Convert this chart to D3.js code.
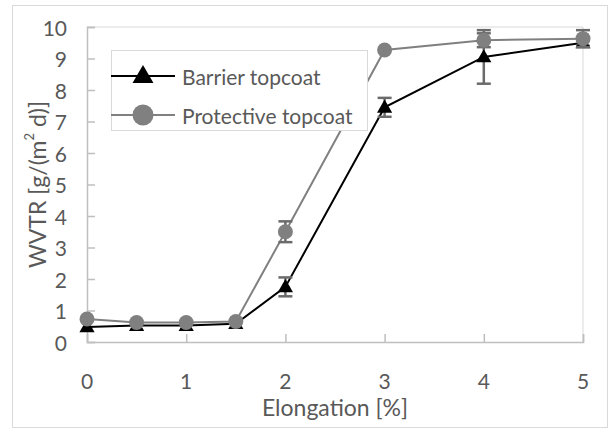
<!DOCTYPE html>
<html>
<head>
<meta charset="utf-8">
<script src="https://cdn.jsdelivr.net/npm/d3@7"></script>
<style>
  body { margin: 0; background: #fff; }
  text { font-family: Lato, "Open Sans", sans-serif; fill: #595959; }
</style>
</head>
<body>
<div id="chart"></div>
<script>
// elongation steps (%) and measured WVTR
const elongation = [0, 0.5, 1, 1.5, 2, 3, 4, 5];
const barrier = [0.48, 0.52, 0.52, 0.58, 1.75, 7.45, 9.05, 9.5];
const barrierErr = [0, 0, 0, 0, 0.3, 0.3, 0.85, 0.1];
const protective = [0.73, 0.62, 0.62, 0.65, 3.5, 9.27, 9.58, 9.63];
const protectiveErr = [0, 0, 0, 0, 0.33, 0, 0.22, 0.27];
const seriesNames = ["Barrier topcoat", "Protective topcoat"];
const xTicks = [0, 1, 2, 3, 4, 5];
const yTicks = d3.range(0, 11);

const width = 611,
      height = 430,
      margin = ({ top: 27, right: 28, bottom: 88, left: 87 });

let svg = d3.select("#chart")
    .append("svg")
    .attr("width", width)
    .attr("height", height);

// outer chart frame
svg.append("rect")
    .attr("x", 12.5).attr("y", 5.5)
    .attr("width", 595).attr("height", 422)
    .attr("fill", "none")
    .attr("stroke", "#d9d9d9");

let x = d3.scaleLinear()
    .domain([0, 5])
    .range([margin.left, width - margin.right]);

let y = d3.scaleLinear()
    .domain([0, 10])
    .range([height - margin.bottom, margin.top]);

// plot area border (top & right)
svg.append("path")
    .attr("d", `M${x(0)},${y(10)}H${x(5)}V${y(0)}`)
    .attr("fill", "none")
    .attr("stroke", "#d9d9d9");

// y axis, ticks pointing inward
let yAxis = svg.append("g")
    .attr("transform", `translate(${x(0)},0)`)
    .call(d3.axisRight(y).tickValues(yTicks).tickSize(8).tickFormat(""));
yAxis.select(".domain").attr("stroke", "#bfbfbf").attr("stroke-width", 1.5);
yAxis.selectAll(".tick line").attr("stroke", "#bfbfbf").attr("stroke-width", 1.5);

svg.append("g").selectAll("text")
    .data(yTicks)
    .join("text")
    .attr("x", 67)
    .attr("y", d => y(d))
    .attr("text-anchor", "end")
    .attr("dominant-baseline", "central")
    .style("font-size", "21px")
    .text(d => d);

// x axis, ticks pointing up
let xAxis = svg.append("g")
    .attr("transform", `translate(0,${y(0)})`)
    .call(d3.axisTop(x).tickValues(xTicks).tickSize(8).tickFormat(""));
xAxis.select(".domain").attr("stroke", "#bfbfbf").attr("stroke-width", 1.5);
xAxis.selectAll(".tick line").attr("stroke", "#bfbfbf").attr("stroke-width", 1.5);

svg.append("g").selectAll("text")
    .data(xTicks)
    .join("text")
    .attr("x", d => x(d))
    .attr("y", 380)
    .attr("text-anchor", "middle")
    .attr("dominant-baseline", "central")
    .style("font-size", "21px")
    .text(d => d);

// axis titles
svg.append("text")
    .attr("x", x(2.5))
    .attr("y", 407)
    .attr("text-anchor", "middle")
    .attr("dominant-baseline", "central")
    .style("font-size", "23px")
    .text("Elongation [%]");

svg.append("text")
    .attr("transform", `translate(37,${y(5)}) rotate(-90)`)
    .attr("text-anchor", "middle")
    .attr("dominant-baseline", "central")
    .style("font-size", "23px")
    .html("WVTR [g/(m<tspan dy='-8' style='font-size:13px'>2</tspan><tspan dy='8'> d)]</tspan>");

const series = [
    { name: seriesNames[0], values: barrier, err: barrierErr, color: "#000000", errColor: "#6b6b6b", shape: "tri" },
    { name: seriesNames[1], values: protective, err: protectiveErr, color: "#808080", errColor: "#6b6b6b", shape: "circ" }
];

function drawMarker(g, shape, color, big) {
    if (shape === "tri") {
        let tri = d3.symbol().type(d3.symbolTriangle).size(big ? 190 : 100);
        g.append("path").attr("d", tri()).attr("transform", "translate(0,1)").attr("fill", color);
    } else {
        g.append("circle").attr("r", big ? 10.5 : 7.5).attr("fill", color);
    }
}

let line = d3.line()
    .x((d, i) => x(elongation[i]))
    .y(d => y(d));

for (let s of series) {
    let g = svg.append("g");

    g.append("path")
        .datum(s.values)
        .attr("fill", "none")
        .attr("stroke", s.color)
        .attr("stroke-width", 2)
        .attr("d", line);

    let pts = s.values.map((v, i) => ({ x: elongation[i], v: v, e: s.err[i] }));

    // error bars
    let eb = g.selectAll(".err")
        .data(pts.filter(d => d.e > 0))
        .join("g")
        .attr("stroke", s.errColor)
        .attr("stroke-width", 2.5);
    eb.append("line")
        .attr("x1", d => x(d.x)).attr("x2", d => x(d.x))
        .attr("y1", d => y(d.v - d.e)).attr("y2", d => y(d.v + d.e));
    eb.append("line")
        .attr("x1", d => x(d.x) - 7).attr("x2", d => x(d.x) + 7)
        .attr("y1", d => y(d.v + d.e)).attr("y2", d => y(d.v + d.e));
    eb.append("line")
        .attr("x1", d => x(d.x) - 7).attr("x2", d => x(d.x) + 7)
        .attr("y1", d => y(d.v - d.e)).attr("y2", d => y(d.v - d.e));

    g.selectAll(".mark")
        .data(pts)
        .join("g")
        .attr("transform", d => `translate(${x(d.x)},${y(d.v)})`)
        .each(function () { drawMarker(d3.select(this), s.shape, s.color, false); });
}

// legend
let legend = svg.append("g").attr("transform", "translate(111,50)");
legend.append("rect")
    .attr("x", 0.5).attr("y", 0.5)
    .attr("width", 256).attr("height", 80)
    .attr("fill", "#fff")
    .attr("stroke", "#d9d9d9");

series.forEach((s, i) => {
    let row = legend.append("g").attr("transform", `translate(0,${26 + i * 39})`);
    row.append("line")
        .attr("x1", 0).attr("x2", 64)
        .attr("stroke", s.color).attr("stroke-width", 2);
    let m = row.append("g").attr("transform", "translate(32,0)");
    drawMarker(m, s.shape, s.color, true);
    row.append("text")
        .attr("x", 71)
        .attr("dominant-baseline", "central")
        .style("font-size", "21px")
        .text(s.name);
});
</script>
</body>
</html>
